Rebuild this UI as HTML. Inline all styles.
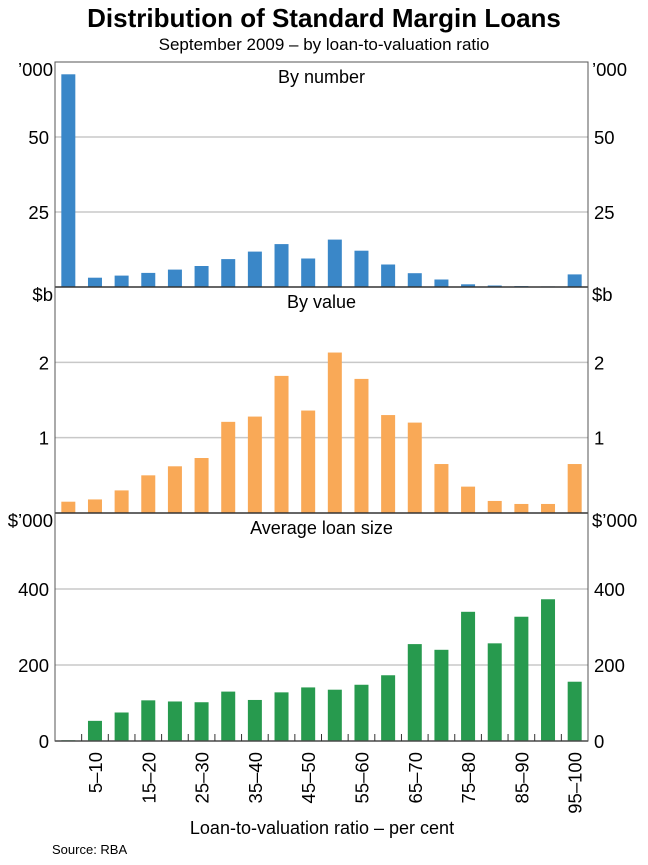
<!DOCTYPE html>
<html><head><meta charset="utf-8"><style>
body{margin:0;background:#fff;}
svg text{font-family:"Liberation Sans",Arial,sans-serif;fill:#000;}
</style></head><body>
<svg id="chart" width="648" height="860" viewBox="0 0 648 860" xmlns="http://www.w3.org/2000/svg">
<text x="324" y="27" text-anchor="middle" font-size="26" font-weight="bold">Distribution of Standard Margin Loans</text>
<text x="324" y="50" text-anchor="middle" font-size="17">September 2009 – by loan-to-valuation ratio</text>
<g id="plots"></g>
<text x="322" y="834" text-anchor="middle" font-size="18">Loan-to-valuation ratio – per cent</text>
<text x="52" y="854" font-size="13">Source: RBA</text>
</svg>
<script>
const categories=["0–5","5–10","10–15","15–20","20–25","25–30","30–35","35–40","40–45","45–50","50–55","55–60","60–65","65–70","70–75","75–80","80–85","85–90","90–95","95–100"];
const numberValues=[70.9,3.1,3.8,4.7,5.8,7.0,9.3,11.8,14.3,9.5,15.8,12.1,7.5,4.6,2.5,0.9,0.5,0.3,0.2,4.2];
const valueValues=[0.15,0.18,0.30,0.50,0.62,0.73,1.21,1.28,1.82,1.36,2.13,1.78,1.30,1.20,0.65,0.35,0.16,0.12,0.12,0.65];
const avgValues=[2,53,75,107,104,102,130,108,128,141,135,148,173,255,240,340,257,327,373,156];
const numberTicks=[25,50];
const valueTicks=[1,2];
const avgTicks=[200,400];
const NS="http://www.w3.org/2000/svg";
const g=document.getElementById('plots');
const L=55,R=588;
const bw=(R-L)/categories.length;
function xScale(i){return L+bw*(i+0.5);}
function mk(tag,attrs){const e=document.createElementNS(NS,tag);for(const k in attrs)e.setAttribute(k,attrs[k]);g.appendChild(e);return e;}
function panel(name,top,bottom,max,vals,ticks,color,title,unit){
  const y=v=>bottom-(v/max)*(bottom-top);
  ticks.forEach(t=>{
    const l=mk('line',{x1:L,x2:R,y1:y(t),y2:y(t),stroke:'#c8c8c8','stroke-width':1.5});
    
    
    [[L-6,'end'],[R+6,'start']].forEach(([x,a])=>{
      const tx=mk('text',{x:x,y:y(t)+7,'text-anchor':a,'font-size':18.5});
      tx.textContent=t;
      
      
    });
  });
  vals.forEach((v,i)=>{
    const r=mk('rect',{x:xScale(i)-7,y:y(v),width:14,height:bottom-y(v),fill:color});
    
    
  });
  const t=mk('text',{x:(L+R)/2,y:top+21,'text-anchor':'middle','font-size':18});
  t.textContent=title;
  
  
  [[L-2,'end'],[R+4,'start']].forEach(([x,a])=>{
    const u=mk('text',{x:x,y:top+14,'text-anchor':a,'font-size':18.5});
    u.textContent=unit;
    
    
  });
  const b=mk('line',{x1:L,x2:R,y1:bottom,y2:bottom,stroke:'#333','stroke-width':1.5});
  
  
}
panel('number',62,287,75,numberValues,numberTicks,'#3a87c8','By number','’000');
panel('value',287,513,3,valueValues,valueTicks,'#f9a957','By value','$b');
panel('average',513,741,600,avgValues,avgTicks,'#279a4e','Average loan size','$’000');
[[L-6,'end'],[R+6,'start']].forEach(([x,a])=>{
  const z=mk('text',{x:x,y:748,'text-anchor':a,'font-size':18.5});
  z.textContent='0';
  
  
});
const fr=mk('rect',{x:L,y:62,width:R-L,height:679,fill:'none',stroke:'#555','stroke-width':1});


for(let i=1;i<categories.length;i++){
  const tk=mk('line',{x1:L+bw*i,x2:L+bw*i,y1:741,y2:734,stroke:'#333','stroke-width':1});
  
  
}
categories.forEach((c,i)=>{
  if(i%2!==1)return;
  const x=xScale(i)+7,yy=752;
  const t=mk('text',{x:x,y:yy,'text-anchor':'end','font-size':18.5,transform:`rotate(-90 ${x} ${yy})`});
  t.textContent=c;
  
  
});
</script>
</body></html>
